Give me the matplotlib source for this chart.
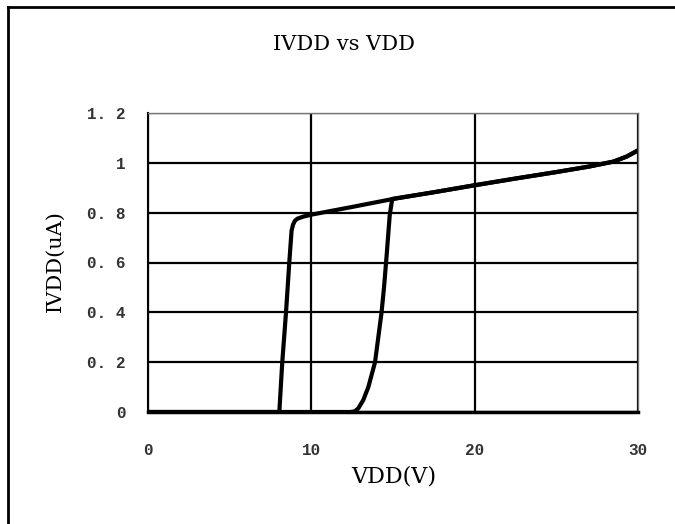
import numpy as np
import matplotlib
matplotlib.use("Agg")
import matplotlib.pyplot as plt

# sweep up (VDD rising)
up_vdd = [0, 11.5, 12.4, 12.67, 12.88, 13.18, 13.49, 13.9, 14.1, 14.3,
          14.45, 14.6, 14.8, 14.95,
          17.5, 20, 22.5, 25, 27, 28.5, 29.3, 30]
up_ivdd = [0, 0, 0, 0.003, 0.015, 0.048, 0.10, 0.20, 0.30, 0.40,
           0.50, 0.62, 0.79, 0.855,
           0.882, 0.91, 0.937, 0.963, 0.985, 1.005, 1.025, 1.05]

# sweep down (VDD falling)
down_vdd = [30, 29.3, 28.5, 27, 25, 22.5, 20, 17.5, 15, 12.5, 10, 9.5,
            9.15, 9.0, 8.88, 8.79, 8.65, 8.45, 8.22, 8.04, 0]
down_ivdd = [1.05, 1.025, 1.005, 0.985, 0.963, 0.937, 0.91, 0.882, 0.855,
             0.823, 0.792, 0.784, 0.776, 0.768, 0.752, 0.728, 0.60, 0.40,
             0.20, 0, 0]

x_ticks = [0, 10, 20, 30]
y_ticks = [0, 0.2, 0.4, 0.6, 0.8, 1.0, 1.2]
y_labels = ["0", "0. 2", "0. 4", "0. 6", "0. 8", "1", "1. 2"]

fig = plt.figure(figsize=(6.75, 5.24), dpi=100)
ax = fig.add_axes([148/675, 112/524, 490/675, 299/524])

ax.plot(up_vdd, up_ivdd, color="black", lw=3, solid_capstyle="round",
        solid_joinstyle="round")
ax.plot(down_vdd, down_ivdd, color="black", lw=3, solid_capstyle="round",
        solid_joinstyle="round")

ax.set_xlim(0, 30)
ax.set_ylim(0, 1.2)
ax.set_xticks(x_ticks)
ax.set_yticks(y_ticks)
ax.set_yticklabels(y_labels)
ax.grid(True, color="black", lw=1.6)
ax.tick_params(length=0, labelsize=11.5, colors="#333333")
ax.tick_params(axis="x", pad=22)
ax.tick_params(axis="y", pad=16)
for lab in ax.get_xticklabels() + ax.get_yticklabels():
    lab.set_family("Liberation Mono")
    lab.set_fontweight("bold")

ax.spines["left"].set_linewidth(1.5)
ax.spines["bottom"].set_linewidth(2.5)
for side in ["top", "right"]:
    ax.spines[side].set_color("#777777")
    ax.spines[side].set_linewidth(1)

fig.text(344/675, 1 - 44/524, "IVDD vs VDD", ha="center", va="center",
         family="DejaVu Serif", fontsize=15)
fig.text(394/675, 1 - 477/524, "VDD(V)", ha="center", va="center",
         family="DejaVu Serif", fontsize=16)
fig.text(55/675, 1 - 261/524, "IVDD(uA)", ha="center", va="center",
         rotation=90, family="DejaVu Serif", fontsize=15)

# frame on the left and top of the figure only
fig.add_artist(plt.Line2D([8/675, 8/675], [0, 1 - 7/524], color="black",
                          lw=2, transform=fig.transFigure))
fig.add_artist(plt.Line2D([8/675, 1], [1 - 7/524, 1 - 7/524], color="black",
                          lw=2, transform=fig.transFigure))

fig.savefig("out.png", dpi=100)
